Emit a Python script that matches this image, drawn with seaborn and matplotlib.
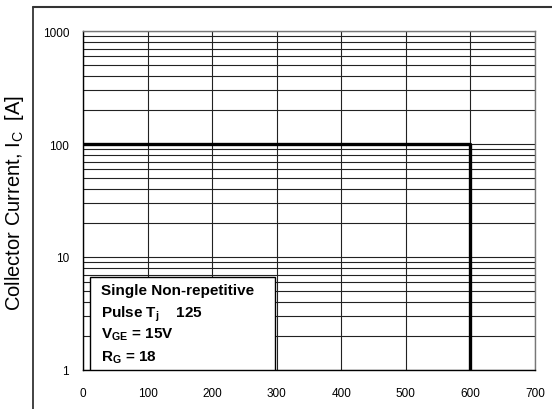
import numpy as np
import matplotlib
matplotlib.use("Agg")
import matplotlib.pyplot as plt
import seaborn as sns
import pandas as pd
from matplotlib.patches import Rectangle
from matplotlib.ticker import LogLocator, NullFormatter

# ----- data -----
vce = [0, 600, 600]
ic = [100, 100, 1]
x_ticks = [0, 100, 200, 300, 400, 500, 600, 700]
y_ticks = [1, 10, 100, 1000]
box_lines = ["Single Non-repetitive",
             r"Pulse T$_\mathregular{j}$    125",
             r"V$_\mathregular{GE}$ = 15V",
             r"R$_\mathregular{G}$ = 18"]

sns.set_theme(style="white")
plt.rcParams['font.family'] = ['Liberation Sans', 'DejaVu Sans']
plt.rcParams.update({"text.color": "black", "axes.labelcolor": "black",
                     "xtick.color": "black", "ytick.color": "black"})

fig = plt.figure(figsize=(5.52, 4.10), dpi=100)
ax = fig.add_axes([83/552, 1 - 371/410, 452/552, 339/410])

df = pd.DataFrame({"Vce": vce, "Ic": ic})
sns.lineplot(data=df, x="Vce", y="Ic", sort=False, estimator=None,
             color="black", linewidth=2.4, ax=ax, zorder=5)

ax.set_yscale("log")
ax.set_xlim(0, 700)
ax.set_ylim(1, 1000)
ax.set_xticks(x_ticks)
ax.set_xticklabels([str(t) for t in x_ticks], fontsize=8.5)
ax.set_yticks(y_ticks)
ax.set_yticklabels([str(t) for t in y_ticks], fontsize=8.5)
ax.yaxis.set_minor_locator(LogLocator(base=10, subs=np.arange(2, 10)))
ax.yaxis.set_minor_formatter(NullFormatter())
ax.tick_params(axis="both", which="both", length=0, colors="black")
ax.tick_params(axis="y", pad=10)
ax.tick_params(axis="x", pad=12)
ax.grid(True, which="both", axis="y", color="#222222", linewidth=0.8)
ax.grid(True, which="major", axis="x", color="#222222", linewidth=0.8)
ax.set_axisbelow(True)
for side in ["left", "bottom"]:
    ax.spines[side].set_color("black")
    ax.spines[side].set_linewidth(1.0)
for side in ["top", "right"]:
    ax.spines[side].set_color("#777777")
    ax.spines[side].set_linewidth(1.0)
ax.set_xlabel("")
ax.set_ylabel("")

# info box
ax.add_patch(Rectangle((0.0155, 0.0), 0.41, 0.274, transform=ax.transAxes,
                       facecolor="white", edgecolor="black", linewidth=1.0,
                       zorder=6))
plt.rcParams['mathtext.fontset'] = 'custom'
plt.rcParams['mathtext.rm'] = 'Liberation Sans:bold'
baselines = [0.224, 0.159, 0.097, 0.029]
for line, yb in zip(box_lines, baselines):
    ax.text(0.04, yb, line, transform=ax.transAxes, fontweight="bold",
            fontsize=11, va="baseline", ha="left", zorder=7)

fig.text(15/552, 1 - 203/410, r"Collector Current, I$_\mathregular{C}$  [A]",
         rotation=90, fontsize=14.5, ha="center", va="center")

# outer frame
fig.add_artist(plt.Line2D([33/552, 33/552], [0, 1 - 8/410], transform=fig.transFigure,
                          color="#222222", linewidth=1.2))
fig.add_artist(plt.Line2D([33/552, 1], [1 - 8/410, 1 - 8/410], transform=fig.transFigure,
                          color="#333333", linewidth=1.5))

fig.savefig("out.png", dpi=100)
